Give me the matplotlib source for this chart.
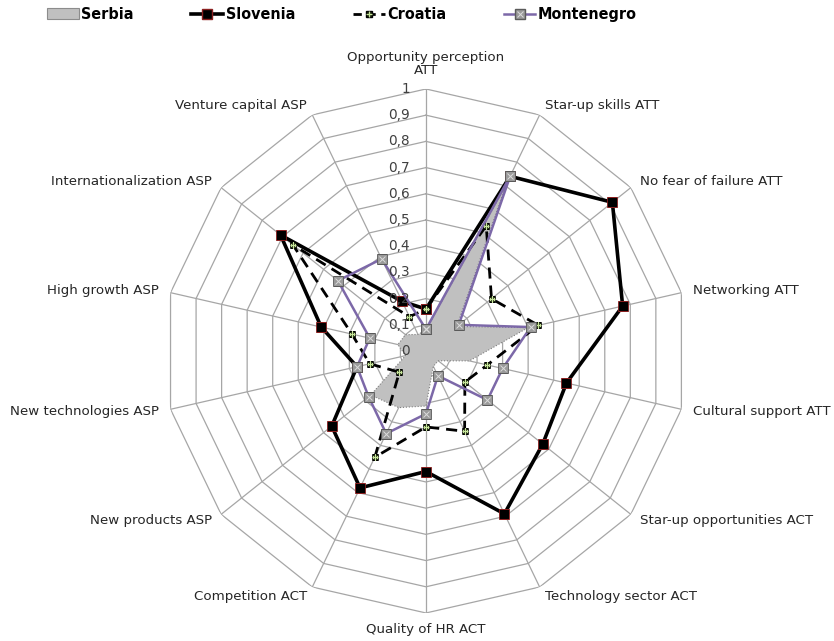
import numpy as np
import matplotlib
matplotlib.use("Agg")
from matplotlib import pyplot as plt
from matplotlib.patches import Patch
from matplotlib.lines import Line2D
from matplotlib.font_manager import FontProperties

categories = ["Opportunity perception\nATT", "Star-up skills ATT", "No fear of failure ATT",
              "Networking ATT", "Cultural support ATT", "Star-up opportunities ACT",
              "Technology sector ACT", "Quality of HR ACT", "Competition ACT",
              "New products ASP", "New technologies ASP", "High growth ASP",
              "Internationalization ASP", "Venture capital ASP"]

serbia = [0.08, 0.70, 0.15, 0.40, 0.17, 0.06, 0.065, 0.21, 0.24, 0.27, 0.08, 0.11, 0.10, 0.07]
slovenia = [0.16, 0.74, 0.91, 0.77, 0.55, 0.57, 0.69, 0.46, 0.58, 0.46, 0.27, 0.41, 0.71, 0.21]
croatia = [0.16, 0.53, 0.32, 0.44, 0.24, 0.19, 0.34, 0.29, 0.45, 0.13, 0.22, 0.29, 0.65, 0.145]
montenegro = [0.083, 0.74, 0.16, 0.41, 0.30, 0.30, 0.105, 0.24, 0.35, 0.28, 0.27, 0.22, 0.43, 0.39]

levels = [0.1, 0.2, 0.3, 0.4, 0.5, 0.6, 0.7, 0.8, 0.9, 1.0]
level_labels = ["0", "0,1", "0,2", "0,3", "0,4", "0,5", "0,6", "0,7", "0,8", "0,9", "1"]

n = len(categories)
angles = np.arange(n) * 2 * np.pi / n
closed = np.append(angles, angles[0])


def close(vals):
    return np.append(vals, vals[0])


fig = plt.figure(figsize=(8.34, 6.41), dpi=100)
ax = fig.add_axes([0.1966, 0.0437, 0.6283, 0.8175], projection="polar")
ax.set_theta_offset(np.pi / 2)
ax.set_theta_direction(-1)
ax.set_ylim(0, 1)
ax.grid(False)
ax.set_xticks([])
ax.set_yticks([])
ax.spines["polar"].set_visible(False)

grid_col = "#a6a6a6"
# polygon web
for lv in levels:
    ax.plot(closed, [lv] * (n + 1), color=grid_col, lw=0.9, zorder=1)
for a in angles:
    ax.plot([a, a], [0, 1], color=grid_col, lw=0.9, zorder=1)

# series
ax.fill(closed, close(serbia), facecolor="#c0c0c0", edgecolor="#7f7f7f",
        linestyle=":", lw=0.8, zorder=2)
ax.plot(closed, close(slovenia), color="black", lw=2.6, marker="s", ms=7,
        mfc="black", mec="#8b2020", mew=0.6, zorder=3)
ax.plot(closed, close(croatia), color="black", lw=2.0, ls=(0, (4, 2.5)),
        marker="s", ms=4.5, mfc="#1e2a10", mec="black", mew=0.5, zorder=4)
ax.plot(closed, close(croatia), ls="none", marker="+", ms=4,
        mec="#c6e59a", mew=0.9, zorder=5)
ax.plot(closed, close(montenegro), color="#7c68a8", lw=1.8, marker="s", ms=7,
        mfc="#9a9a9a", mec="#5a5a5a", mew=0.6, zorder=6)
ax.plot(closed, close(montenegro), ls="none", marker="x", ms=4,
        mec="#dcdcdc", mew=0.7, zorder=7)

# value labels along the top spoke
for r, lab in zip([0] + levels, level_labels):
    ax.annotate(lab, xy=(0, r), xytext=(-16, 0), textcoords="offset pixels",
                ha="right", va="center", fontsize=9.8, color="#404040", zorder=8)

# category labels
for a, lab in zip(angles, categories):
    s, c = np.sin(a), np.cos(a)
    if abs(s) < 0.1:
        ha = "center"
        va = "bottom" if c > 0 else "top"
        off = (0, 12 if c > 0 else -10)
    else:
        ha = "left" if s > 0 else "right"
        va = "center"
        off = (12 * s, 10 * c)
    ax.annotate(lab, xy=(a, 1.0), xytext=off, textcoords="offset pixels",
                ha=ha, va=va, fontsize=9.6, color="#262626", linespacing=1.0,
                annotation_clip=False)

handles = [
    Patch(facecolor="#c0c0c0", edgecolor="#8c8c8c", lw=0.8),
    Line2D([], [], color="black", lw=2.6, marker="s", ms=7, mfc="black", mec="#8b2020"),
    (Line2D([], [], color="black", lw=2.0, ls=(0, (3, 2)), marker="s", ms=4.5,
            mfc="#1e2a10", mec="black"),
     Line2D([], [], ls="none", marker="+", ms=4, mec="#c6e59a", mew=0.9)),
    (Line2D([], [], color="#7c68a8", lw=1.8, marker="s", ms=7, mfc="#9a9a9a", mec="#5a5a5a"),
     Line2D([], [], ls="none", marker="x", ms=4, mec="#dcdcdc", mew=0.7)),
]
fig.legend(handles, ["Serbia", "Slovenia", "Croatia", "Montenegro"],
           loc="center", bbox_to_anchor=(0.41, 0.977), ncol=4, frameon=False,
           prop=FontProperties(family="DejaVu Sans", weight="bold",
                               stretch="condensed", size=11.5),
           handlelength=2.0, handletextpad=0.15, columnspacing=3.6)

fig.savefig("out.png", dpi=100, facecolor="white")
